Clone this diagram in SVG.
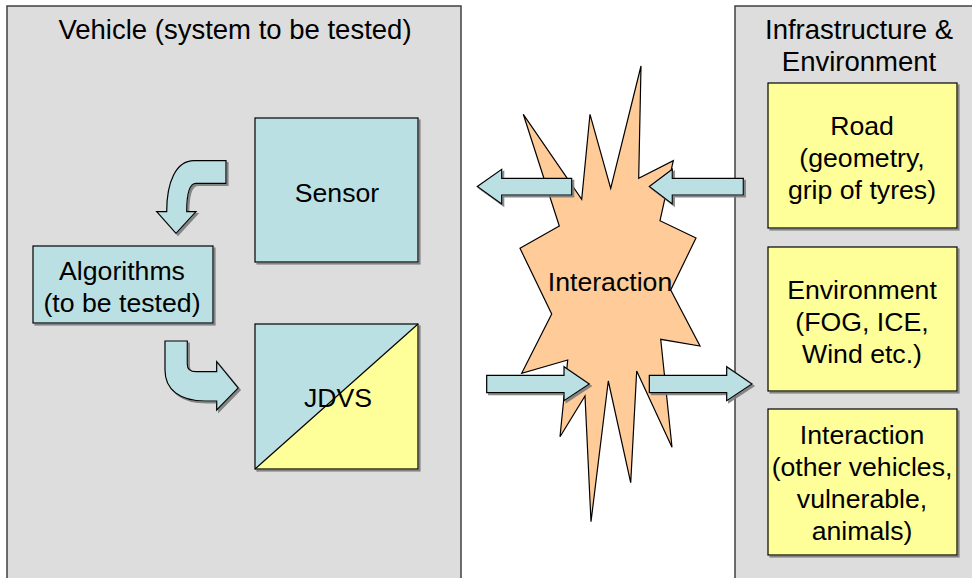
<svg xmlns="http://www.w3.org/2000/svg" width="972" height="578" viewBox="0 0 972 578">
<defs>
<filter id="sh" x="-10%" y="-10%" width="130%" height="130%">
<feDropShadow dx="2" dy="2" stdDeviation="0.6" flood-color="#7a7a7a" flood-opacity="0.9"/>
</filter>
</defs>
<style>
.panel{fill:#DDDDDD;stroke:#404040;stroke-width:1.5}
.blue{fill:#BBE0E3;stroke:#000;stroke-width:1.2}
.yel{fill:#FFFF99;stroke:#000;stroke-width:1.2}
.star{fill:#FFCC99;stroke:#000;stroke-width:1.2;stroke-linejoin:miter}
.arr{fill:#BBE0E3;stroke:#000;stroke-width:1.2;stroke-linejoin:miter}
text{font-family:"Liberation Sans",Arial,sans-serif;font-size:26.67px;fill:#000;text-anchor:middle}
.hd{font-size:27.5px}
</style>
<rect width="972" height="578" fill="#FFFFFF"/>

<g id="vehicle">
<rect class="panel" x="7" y="6" width="454" height="590"/>
<text class="hd" x="235" y="39">Vehicle (system to be tested)</text>
</g>

<g id="infrastructure">
<rect class="panel" x="735" y="6" width="260" height="590"/>
<text class="hd" x="859" y="39">Infrastructure &amp;</text>
<text class="hd" x="859" y="71">Environment</text>
</g>

<g id="interaction-star">
<polygon class="star" points="641,66 610.7,188.3 590,114.3 581.7,199.3 523.3,114.3 559.3,226 520,248.3 551.7,314 521.7,373.3 567.7,360 560,436.7 585,396 591,521.7 608.3,381 630.7,482.7 636.7,371 672,447.3 660.7,339.3 700,346 670.7,290 696,238 660,220.7 673.3,160.7 638.7,178.3"/>
</g>

<g id="sensor">
<rect class="blue" x="255" y="118" width="163" height="144" filter="url(#sh)"/>
<text x="337" y="202">Sensor</text>
</g>

<g id="algorithms">
<rect class="blue" x="33" y="246" width="180" height="77" filter="url(#sh)"/>
<text x="122" y="280">Algorithms</text>
<text x="122" y="312">(to be tested)</text>
</g>

<g id="jdvs">
<g filter="url(#sh)">
<rect x="255" y="324" width="163" height="145" fill="#FFFF99"/>
<polygon points="255,324 418,324 255,469" fill="#BBE0E3"/>
<line x1="255" y1="469" x2="418" y2="324" stroke="#000" stroke-width="1.2"/>
<rect x="255" y="324" width="163" height="145" fill="none" stroke="#000" stroke-width="1.2"/>
</g>
<text x="338" y="407">JDVS</text>
</g>

<g id="road">
<rect class="yel" x="768" y="83" width="189" height="145" filter="url(#sh)"/>
<text x="862" y="135">Road</text>
<text x="862" y="167">(geometry,</text>
<text x="862" y="199">grip of tyres)</text>
</g>

<g id="environment">
<rect class="yel" x="768" y="247" width="189" height="144" filter="url(#sh)"/>
<text x="862" y="299">Environment</text>
<text x="862" y="331">(FOG, ICE,</text>
<text x="862" y="363">Wind etc.)</text>
</g>

<g id="interaction-box">
<rect class="yel" x="768" y="409" width="189" height="146" filter="url(#sh)"/>
<text x="862" y="444">Interaction</text>
<text x="862" y="476">(other vehicles,</text>
<text x="862" y="508">vulnerable,</text>
<text x="862" y="540">animals)</text>
</g>

<g id="connectors">
<path class="arr" filter="url(#sh)" d="M226,160.7 H194 C176,160.7 166.7,182 166.7,211.7 H156.7 L176,233.3 L196,211.7 H186.7 C186.7,195 189,183.3 196,183.3 H226 Z"/>
<path class="arr" filter="url(#sh)" d="M165,341 H187.3 V364 C187.3,369 190,371.7 196,371.7 H216.7 V361.7 L238.3,388 L216.7,410 V401 H205 C180,401 165,390 165,370 Z"/>
<polygon class="arr" filter="url(#sh)" points="571.7,178.3 501.7,178.3 501.7,169.3 477.3,186.5 501.7,204 501.7,195 571.7,195"/>
<polygon class="arr" filter="url(#sh)" points="743.3,178.3 672.3,178.3 672.3,169.3 649.3,186.5 672.3,204 672.3,195 743.3,195"/>
<polygon class="arr" filter="url(#sh)" points="486.7,375.3 564,375.3 564,366.7 589.3,384 564,400.7 564,392.7 486.7,392.7"/>
<polygon class="arr" filter="url(#sh)" points="649.3,375.3 726.7,375.3 726.7,366.7 752,384 726.7,400.7 726.7,392.7 649.3,392.7"/>
</g>

<g id="interaction-label">
<text x="610" y="291">Interaction</text>
</g>
</svg>
